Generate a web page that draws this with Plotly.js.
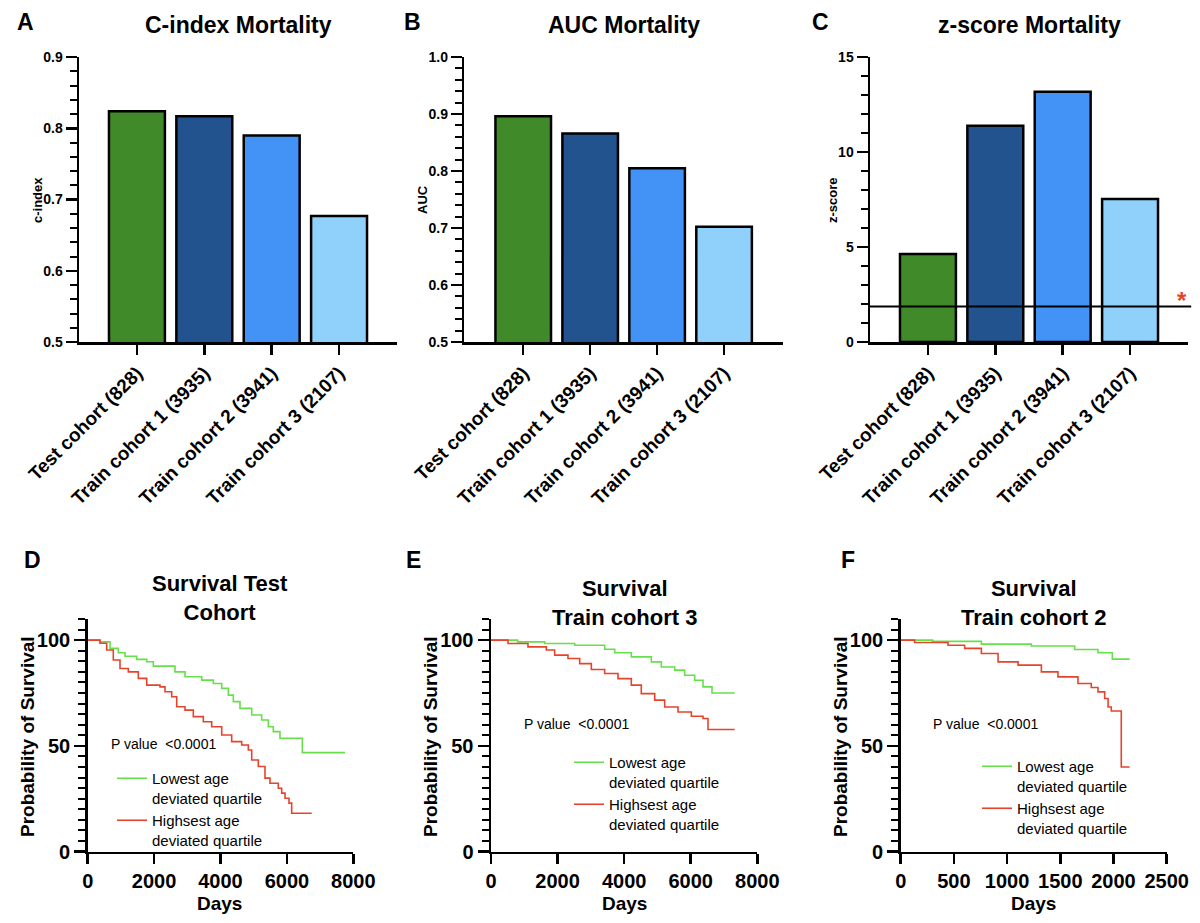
<!DOCTYPE html>
<html>
<head>
<meta charset="utf-8">
<script src="https://cdn.plot.ly/plotly-3.0.1.min.js"></script>
<style>html,body{margin:0;padding:0;background:#fff;}#chart{width:1200px;height:923px;}</style>
</head>
<body>
<div id="chart"></div>
<script>
// ---------- data ----------
const cohorts = ["Test cohort (828)", "Train cohort 1 (3935)", "Train cohort 2 (3941)", "Train cohort 3 (2107)"];
const barColors = ["#418a2a", "#23538e", "#4393f7", "#8fd1fb"];
const cIndex = [0.824, 0.817, 0.790, 0.677];
const aucVals = [0.896, 0.866, 0.805, 0.702];
const zScores = [4.63, 11.38, 13.17, 7.53];
const zThreshold = 1.87;

const legendLow = "Lowest age<br>deviated quartile";
const legendHigh = "Highsest age<br>deviated quartile";

// Panel D: Survival Test Cohort
const dLowDays = [0, 370, 673, 922, 1123, 1476, 1777, 1976, 2629, 2931, 3434, 3783, 4036, 4235, 4386, 4587, 4940, 5241, 5440, 5590, 5792, 6464, 7750];
const dLowSurv = [100, 99.2, 96.1, 94.0, 92.4, 90.9, 89.8, 87.7, 85.0, 82.7, 81.1, 79.5, 77.2, 74.0, 70.9, 67.7, 64.6, 62.2, 59.0, 56.7, 53.6, 46.8, 46.8];
const dHighDays = [0, 370, 572, 771, 973, 1223, 1524, 1777, 2178, 2328, 2530, 2681, 2931, 3181, 3482, 3735, 4036, 4337, 4638, 4838, 4940, 5139, 5340, 5491, 5741, 5843, 5943, 6063, 6144, 6747];
const dHighSurv = [100, 98.5, 95.3, 90.6, 86.6, 85.0, 81.9, 78.7, 77.9, 75.6, 73.2, 68.5, 66.9, 63.8, 61.4, 59.0, 55.1, 52.0, 50.4, 48.0, 43.3, 40.2, 34.7, 32.3, 29.9, 27.6, 25.2, 22.9, 18.1, 18.1];
// Panel E: Survival Train cohort 3
const eLowDays = [0, 800, 1613, 2514, 3415, 3716, 4215, 4816, 5116, 5518, 5818, 6119, 6369, 6639, 7321];
const eLowSurv = [100, 99.2, 98.4, 97.6, 95.7, 94.0, 92.1, 89.7, 87.3, 85.8, 83.4, 81.0, 77.9, 75.0, 75.0];
const eHighDays = [0, 511, 1111, 1661, 1913, 2313, 2664, 3014, 3415, 3815, 4215, 4515, 4918, 5218, 5618, 6019, 6369, 6519, 7321];
const eHighSurv = [100, 98.4, 96.8, 95.3, 92.9, 91.3, 88.9, 86.1, 84.2, 81.8, 78.7, 74.7, 71.6, 68.4, 66.0, 64.0, 62.9, 57.7, 57.7];
// Panel F: Survival Train cohort 2
const fLowDays = [0, 300, 758, 1228, 1635, 1854, 1989, 2152];
const fLowSurv = [100, 99.4, 98.1, 97.2, 95.6, 94.0, 91.0, 91.0];
const fHighDays = [0, 131, 445, 601, 758, 915, 1103, 1322, 1478, 1666, 1791, 1854, 1917, 1949, 1979, 2073, 2152];
const fHighSurv = [100, 98.9, 97.6, 96.1, 93.7, 89.7, 88.2, 85.0, 82.6, 79.5, 77.6, 75.5, 72.4, 68.4, 66.5, 40.0, 40.0];

const greenLine = "#66e04a";
const redLine = "#e5442c";

// ---------- helpers ----------
const FONT = "Liberation Sans, Arial, Helvetica, sans-serif";
const TICK = "#000";
const W = 1200, H = 923;
const px = v => v / W;
const py = v => 1 - v / H;

function barTrace(vals, xa, ya) {
  return { type: "bar", x: cohorts, y: vals, xaxis: xa, yaxis: ya, width: 0.83,
    marker: { color: barColors, line: { color: "#000", width: 2.5 } }, showlegend: false, hoverinfo: "skip" };
}
function kmTrace(xs, ys, color, name, xa, ya, leg) {
  return { type: "scatter", mode: "lines", x: xs, y: ys, xaxis: xa, yaxis: ya,
    line: { shape: "hv", color: color, width: 1.6 }, name: name, legend: leg, showlegend: true, hoverinfo: "skip" };
}
const traces = [
  barTrace(cIndex, "x", "y"), barTrace(aucVals, "x2", "y2"), barTrace(zScores, "x3", "y3"),
  kmTrace(dLowDays, dLowSurv, greenLine, legendLow, "x4", "y4", "legend"),
  kmTrace(dHighDays, dHighSurv, redLine, legendHigh, "x4", "y4", "legend"),
  kmTrace(eLowDays, eLowSurv, greenLine, legendLow, "x5", "y5", "legend2"),
  kmTrace(eHighDays, eHighSurv, redLine, legendHigh, "x5", "y5", "legend2"),
  kmTrace(fLowDays, fLowSurv, greenLine, legendLow, "x6", "y6", "legend3"),
  kmTrace(fHighDays, fHighSurv, redLine, legendHigh, "x6", "y6", "legend3")
];
function barX(dom, anchor, range) {
  return { domain: dom, anchor: anchor, type: "category", range: range,
    showline: true, linecolor: "#000", linewidth: 2.5, ticks: "outside", ticklen: 10, tickwidth: 2.5, tickcolor: TICK,
    tickangle: -45, tickfont: { family: FONT, size: 19, weight: "bold", color: "#000" }, showgrid: false, zeroline: false };
}
function valueY(dom, anchor, range, dtick, minorStep, fmt, fontSize) {
  return { domain: dom, anchor: anchor, range: range, tick0: range[0], dtick: dtick, tickformat: fmt,
    showline: true, linecolor: "#000", linewidth: 2.5, ticks: "outside", ticklen: 11, tickwidth: 2.5, tickcolor: TICK,
    minor: { tick0: range[0], dtick: minorStep, ticks: "outside", ticklen: 7, tickwidth: 2, tickcolor: TICK },
    tickfont: { family: FONT, size: fontSize, weight: "bold", color: "#000" }, showgrid: false, zeroline: false };
}
function kmX(dom, anchor, range, dtick) {
  return { domain: dom, anchor: anchor, range: range, tick0: 0, dtick: dtick,
    showline: true, linecolor: "#000", linewidth: 2.5, ticks: "outside", ticklen: 10, tickwidth: 2.5, tickcolor: TICK,
    tickfont: { family: FONT, size: 20, weight: "bold", color: "#000" }, showgrid: false, zeroline: false };
}
const topY = [py(342), py(57)];
const botY = [py(851.5), py(619)];
function ann(text, x, y, size, opts) {
  return Object.assign({ text: text, x: x, y: y, xref: "paper", yref: "paper", xanchor: "center", yanchor: "middle",
    showarrow: false, font: { family: FONT, size: size, weight: "bold", color: "#000" } }, opts || {});
}
const pFont = { family: FONT, size: 14, color: "#000" };
const annotations = [
  ann("A", px(25), py(22), 23), ann("B", px(412), py(22), 23), ann("C", px(820), py(22), 23),
  ann("D", px(32), py(560), 23), ann("E", px(413), py(560), 23), ann("F", px(848), py(560), 23),
  ann("C-index Mortality", px(238), py(25), 23), ann("AUC Mortality", px(624), py(25), 23), ann("z-score Mortality", px(1029), py(25), 23),
  ann("Survival Test<br>Cohort", px(220), py(598), 22), ann("Survival<br>Train cohort 3", px(624), py(603), 22), ann("Survival<br>Train cohort 2", px(1033), py(603), 22),
  ann("c-index", px(38), py(200), 13, { textangle: -90 }), ann("AUC", px(423), py(200), 13, { textangle: -90 }), ann("z-score", px(833), py(200), 13, { textangle: -90 }),
  ann("Probability of Survival", px(27), py(737), 19, { textangle: -90 }), ann("Probability of Survival", px(430), py(737), 19, { textangle: -90 }), ann("Probability of Survival", px(840), py(737), 19, { textangle: -90 }),
  ann("Days", px(220), py(903), 19), ann("Days", px(624), py(903), 19), ann("Days", px(1033), py(903), 19),
  ann("P value \u00a0&lt;0.0001", px(109), py(744), 14, { xanchor: "left", font: pFont }),
  ann("P value \u00a0&lt;0.0001", px(522), py(724), 14, { xanchor: "left", font: pFont }),
  ann("P value \u00a0&lt;0.0001", px(931), py(724), 14, { xanchor: "left", font: pFont }),
  ann("*", px(1182), py(300), 24, { font: { family: FONT, size: 24, weight: "bold", color: "#e5442c" } })
];
function legendCfg(x, y) {
  return { x: x, y: y, xref: "paper", yref: "paper", xanchor: "left", yanchor: "top", bgcolor: "rgba(0,0,0,0)", borderwidth: 0,
    valign: "top", itemwidth: 30, tracegroupgap: 0, font: { family: FONT, size: 15, color: "#000" } };
}
const layout = {
  width: W, height: H, margin: { l: 0, r: 0, t: 0, b: 0 }, paper_bgcolor: "#fff", plot_bgcolor: "#fff", showlegend: true,
  xaxis: barX([px(79), px(397)], "y", [-0.86, 3.86]), yaxis: valueY(topY, "x", [0.5, 0.9], 0.1, 0.02, ".1f", 14),
  xaxis2: barX([px(464.3), px(783)], "y2", [-0.88, 3.88]), yaxis2: valueY(topY, "x2", [0.5, 1.0], 0.1, 0.02, ".1f", 14),
  xaxis3: barX([px(870), px(1188)], "y3", [-0.86, 3.86]), yaxis3: valueY(topY, "x3", [0, 15], 5, 1, "d", 14),
  xaxis4: kmX([px(87.7), px(353.3)], "y4", [0, 8000], 2000), yaxis4: valueY(botY, "x4", [0, 110], 50, 5, "d", 20),
  xaxis5: kmX([px(491), px(757.3)], "y5", [0, 8000], 2000), yaxis5: valueY(botY, "x5", [0, 110], 50, 5, "d", 20),
  xaxis6: kmX([px(900.7), px(1166.7)], "y6", [0, 2500], 500), yaxis6: valueY(botY, "x6", [0, 110], 50, 5, "d", 20),
  legend: legendCfg(px(112), py(762)), legend2: legendCfg(px(569), py(746)), legend3: legendCfg(px(977), py(750)),
  shapes: [{ type: "line", xref: "x3 domain", yref: "y3", x0: 0, x1: 1.01, y0: zThreshold, y1: zThreshold, line: { color: "#000", width: 2 }, layer: "above" }],
  annotations: annotations
};
Plotly.newPlot("chart", traces, layout, { staticPlot: true, displayModeBar: false });
</script>
</body>
</html>
